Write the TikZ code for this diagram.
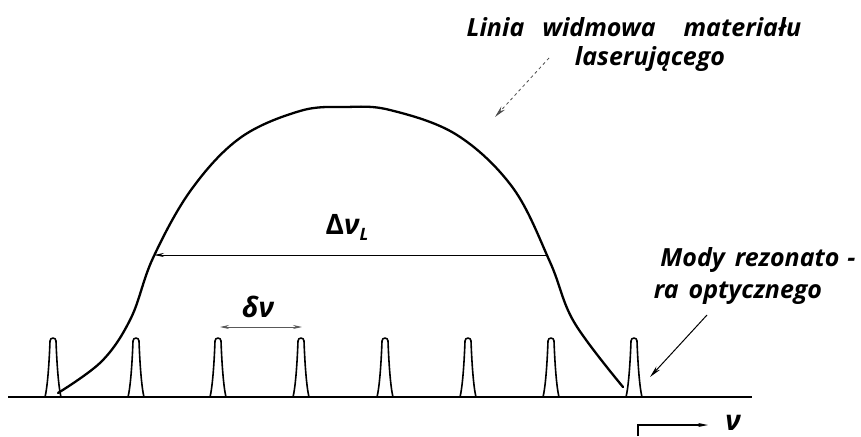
\documentclass[tikz,border=0pt]{standalone}
\usepackage{fontspec}
\setmainfont{Open Sans}
\usetikzlibrary{arrows.meta}
\tikzset{
  lbl/.style={font=\fontsize{25}{28}\selectfont\bfseries\itshape, inner sep=0pt, anchor=center},
  biglbl/.style={font=\fontsize{28}{30}\selectfont\bfseries\itshape, inner sep=0pt, anchor=center},
  curve/.style={line width=2.3pt, line cap=round},
  axis/.style={line width=1.6pt},
  peak/.style={line width=1.6pt, line join=round},
  dim/.style={line width=0.9pt, -{Stealth[length=10pt,width=4pt]}},
  dimboth/.style={line width=0.9pt, gray!70!black, {Stealth[length=9pt,width=4pt]}-{Stealth[length=9pt,width=4pt]}},
  pointer/.style={line width=1pt, -{Stealth[length=12pt,width=5pt]}},
  dashpointer/.style={line width=0.8pt, dashed, gray!60!black, -{Stealth[length=12pt,width=5pt]}}
}
\newcommand{\mypeak}[1]{%
  \draw[peak] (#1-8,397) .. controls (#1-5,385) and (#1-3.5,355) .. (#1-3,341)
    arc (180:360:3) .. controls (#1+3.5,355) and (#1+5,385) .. (#1+8,397);}
\begin{document}
\begin{tikzpicture}[x=1pt,y=-1pt]
\useasboundingbox (0,0) rectangle (861,436);
% baseline
\coordinate (b0) at (8,397);
\coordinate (b1) at (752,397);
\draw[axis] (b0) -- (b1);
% peaks
\foreach \c in {53,136,218,301,385,468,551,634} {\mypeak{\c}}
% gain curve
\draw[curve] plot[smooth, tension=0.6] coordinates {
 (58,393) (102,361) (131,318) (153,258) (191,190) (240,138) (300,111) (345,107) (390,110) (457,135) (513,188) (550,262) (574,322) (623,387)};
% delta nu L
\coordinate (dR) at (546,255);
\coordinate (dL) at (154,255);
\draw[dim] (dR) -- (dL);
\node[biglbl] (dnl) at (347,227) {\upshape Δ\itshape ν\raisebox{-6pt}{\fontsize{17}{17}\selectfont L}};
% delta nu
\coordinate (sL) at (220,327);
\coordinate (sR) at (302,327);
\draw[dimboth] (sL) -- (sR);
\node[biglbl] (snu) at (258,307) {δν};
% top label
\node[lbl] (t1) at (634,27) {Linia\hspace{18pt}widmowa\hspace{28pt}materiału};
\node[lbl] (t2) at (650,59) {laserującego};
\coordinate (tA) at (549,58);
\coordinate (tB) at (495,117);
\draw[dashpointer] (tA) -- (tB);
% modes label
\node[lbl] (m1) at (758,260) {Mody\hspace{10pt}rezonato\hspace{8pt}-};
\node[lbl] (m2) at (738,293) {ra\hspace{10pt}optycznego};
\coordinate (mA) at (707,315);
\coordinate (mB) at (650,377);
\draw[pointer] (mA) -- (mB);
% nu axis
\coordinate (n0) at (638,436);
\coordinate (n1) at (708,425);
\draw[line width=1.2pt, -{Stealth[length=10pt,width=4pt]}] (n0) |- (n1);
\node[biglbl] (nu) at (733,423) {ν};
\end{tikzpicture}
\end{document}
